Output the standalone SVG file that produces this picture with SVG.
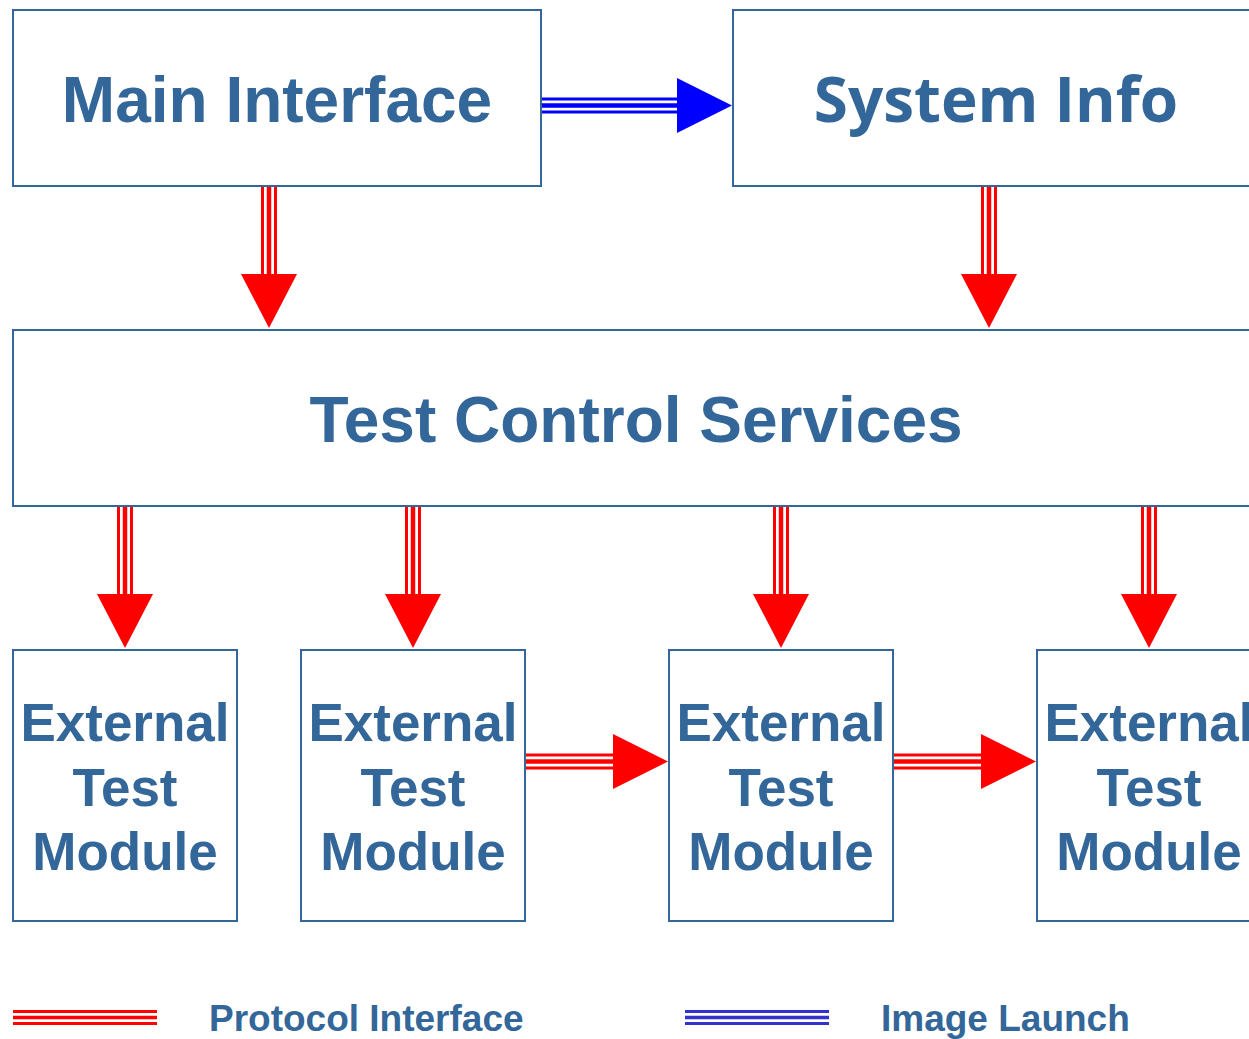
<svg xmlns="http://www.w3.org/2000/svg" width="1249" height="1039" viewBox="0 0 1249 1039">
<style>
.box{fill:#fff;stroke:#336699;stroke-width:2}
.t{font-family:"Liberation Sans",Arial,sans-serif;font-weight:bold;fill:#336699;text-anchor:middle}
.big{font-size:64px}
.mod{font-size:53px}
.leg{font-size:37px;text-anchor:start}
.o{fill:none;stroke-width:16}
.w{fill:none;stroke:#fff;stroke-width:10}
.i{fill:none;stroke-width:4.5}
.red .o,.red .i{stroke:#ff0000}
.red polygon{fill:#ff0000}
.blue .o,.blue .i{stroke:#0000ff}
.blue polygon{fill:#0000ff}
.lred .o,.lred .i{stroke:#ff0000}
.lblue .o,.lblue .i{stroke:#3333cc}
.lg .o{stroke-width:15}
.lg .w{stroke-width:9}
.lg .i{stroke-width:3.5}
</style>
<rect width="1249" height="1039" fill="#fff"/>
<g id="main-interface">
<rect class="box" x="13" y="10" width="528" height="176"/>
<text class="t big" x="277" y="122">Main Interface</text>
</g>
<g id="system-info">
<rect class="box" x="733" y="10" width="527" height="176"/>
<text class="t big" x="996" y="122" style="font-family:'Open Sans','DejaVu Sans',sans-serif;font-size:62px">System Info</text>
</g>
<g id="test-control-services">
<rect class="box" x="13" y="330" width="1247" height="176"/>
<text class="t big" x="636" y="442">Test Control Services</text>
</g>
<g id="module-1">
<rect class="box" x="13" y="650" width="224" height="271"/>
<text class="t mod"><tspan x="125" y="741">External</tspan><tspan x="125" y="806">Test</tspan><tspan x="125" y="870">Module</tspan></text>
</g>
<g id="module-2">
<rect class="box" x="301" y="650" width="224" height="271"/>
<text class="t mod"><tspan x="413" y="741">External</tspan><tspan x="413" y="806">Test</tspan><tspan x="413" y="870">Module</tspan></text>
</g>
<g id="module-3">
<rect class="box" x="669" y="650" width="224" height="271"/>
<text class="t mod"><tspan x="781" y="741">External</tspan><tspan x="781" y="806">Test</tspan><tspan x="781" y="870">Module</tspan></text>
</g>
<g id="module-4">
<rect class="box" x="1037" y="650" width="224" height="271"/>
<text class="t mod"><tspan x="1149" y="741">External</tspan><tspan x="1149" y="806">Test</tspan><tspan x="1149" y="870">Module</tspan></text>
</g>
<g id="connectors">
<g class="blue">
<path class="o" d="M542 105.5H678"/><path class="w" d="M542 105.5H678"/><path class="i" d="M542 105.5H678"/>
<polygon points="677,78 677,133 732,105.5"/>
</g>
<g class="red">
<path class="o" d="M269 187V275"/><path class="w" d="M269 187V275"/><path class="i" d="M269 187V275"/>
<polygon points="241,274 297,274 269,328"/>
</g>
<g class="red">
<path class="o" d="M989 187V275"/><path class="w" d="M989 187V275"/><path class="i" d="M989 187V275"/>
<polygon points="961,274 1017,274 989,328"/>
</g>
<g class="red">
<path class="o" d="M125 507V595"/><path class="w" d="M125 507V595"/><path class="i" d="M125 507V595"/>
<polygon points="97,594 153,594 125,648"/>
</g>
<g class="red">
<path class="o" d="M413 507V595"/><path class="w" d="M413 507V595"/><path class="i" d="M413 507V595"/>
<polygon points="385,594 441,594 413,648"/>
</g>
<g class="red">
<path class="o" d="M781 507V595"/><path class="w" d="M781 507V595"/><path class="i" d="M781 507V595"/>
<polygon points="753,594 809,594 781,648"/>
</g>
<g class="red">
<path class="o" d="M1149 507V595"/><path class="w" d="M1149 507V595"/><path class="i" d="M1149 507V595"/>
<polygon points="1121,594 1177,594 1149,648"/>
</g>
<g class="red">
<path class="o" d="M526 761.5H614"/><path class="w" d="M526 761.5H614"/><path class="i" d="M526 761.5H614"/>
<polygon points="613,734 613,789 668,761.5"/>
</g>
<g class="red">
<path class="o" d="M894 761.5H982"/><path class="w" d="M894 761.5H982"/><path class="i" d="M894 761.5H982"/>
<polygon points="981,734 981,789 1036,761.5"/>
</g>
</g>
<g id="legend">
<g class="lg lred">
<path class="o" d="M13 1017.5H157"/><path class="w" d="M13 1017.5H157"/><path class="i" d="M13 1017.5H157"/>
</g>
<text class="t leg" x="209" y="1031">Protocol Interface</text>
<g class="lg lblue">
<path class="o" d="M685 1017.5H829"/><path class="w" d="M685 1017.5H829"/><path class="i" d="M685 1017.5H829"/>
</g>
<text class="t leg" x="881" y="1031">Image Launch</text>
</g>
</svg>
